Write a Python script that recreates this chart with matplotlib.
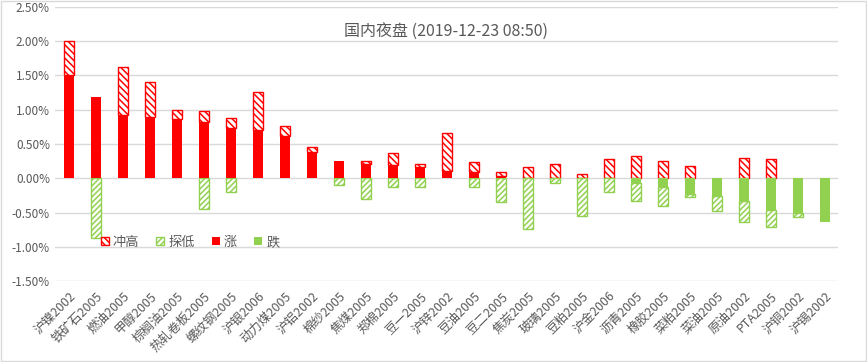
import matplotlib.pyplot as plt
import matplotlib.patches as mpatches
import numpy as np

plt.rcParams['font.family'] = ['Noto Sans CJK SC', 'DejaVu Sans']
plt.rcParams['hatch.linewidth'] = 1.1

# data (percent)
names = ['沪镍2002', '铁矿石2005', '燃油2005', '甲醇2005', '棕榈油2005', '热轧卷板2005',
         '螺纹钢2005', '沪银2006', '动力煤2005', '沪铝2002', '棉纱2005', '焦煤2005',
         '郑棉2005', '豆一2005', '沪锌2002', '豆油2005', '豆二2005', '焦炭2005',
         '玻璃2005', '豆粕2005', '沪金2006', '沥青2005', '橡胶2005', '菜粕2005',
         '菜油2005', '原油2002', 'PTA2005', '沪铜2002', '沪锡2002']
chg = [1.51, 1.18, 0.93, 0.90, 0.87, 0.82, 0.74, 0.71, 0.62, 0.39, 0.25, 0.21,
       0.19, 0.16, 0.11, 0.09, 0.04, 0.00, 0.00, 0.00, 0.00, -0.07, -0.12, -0.23,
       -0.25, -0.33, -0.46, -0.51, -0.63]
high = [2.00, 1.18, 1.62, 1.40, 1.00, 0.98, 0.88, 1.26, 0.76, 0.46, 0.25, 0.25,
        0.37, 0.21, 0.66, 0.24, 0.09, 0.17, 0.21, 0.07, 0.28, 0.33, 0.26, 0.18,
        0.00, 0.30, 0.28, 0.00, 0.00]
low = [0.00, -0.87, 0.00, 0.00, 0.00, -0.45, -0.20, 0.00, 0.00, 0.00, -0.10, -0.30,
       -0.12, -0.12, 0.00, -0.13, -0.35, -0.73, -0.07, -0.55, -0.19, -0.33, -0.40, -0.27,
       -0.47, -0.63, -0.70, -0.56, -0.63]

red = '#FF0000'
green = '#92D050'
gray = '#595959'
hatch_hi = '\\\\\\\\\\'
hatch_lo = '//////'

x = np.arange(len(names))
up = np.clip(chg, 0, None)
down = np.clip(chg, None, 0)
hi_part = np.array(high) - up
lo_part = np.array(low) - down

fig = plt.figure(figsize=(8.67, 3.62), dpi=100)
ax = fig.add_axes([0.064, 0.2224, 0.903, 0.759])

w = 0.37
# hide outline of empty segments
hi_lw = np.where(np.abs(hi_part) > 1e-9, 1.0, 0.0)
lo_lw = np.where(np.abs(lo_part) > 1e-9, 1.0, 0.0)
ax.bar(x, hi_part, w, bottom=up, color='white', edgecolor=red, hatch=hatch_hi, linewidth=hi_lw, zorder=3)
ax.bar(x, lo_part, w, bottom=down, color='white', edgecolor=green, hatch=hatch_lo, linewidth=lo_lw, zorder=3)
ax.bar(x, up, w, color=red, linewidth=0, zorder=3)
ax.bar(x, down, w, color=green, linewidth=0, zorder=3)

ax.set_xlim(-0.5, len(names) - 0.5)
ax.set_ylim(-1.5, 2.5)
ax.set_yticks(np.arange(-1.5, 2.51, 0.5))
ax.set_yticklabels([f'{v:.2f}%' for v in np.arange(-1.5, 2.51, 0.5)], color=gray, fontsize=8.5)
ax.set_xticks(x)
ax.set_xticklabels(names, rotation=45, ha='right', rotation_mode='anchor', color=gray, fontsize=9)
ax.tick_params(axis='y', length=0, pad=4)
ax.tick_params(axis='x', length=0, pad=6)
ax.grid(axis='y', color='#D9D9D9', linewidth=1.0, zorder=0)
ax.set_axisbelow(True)
for s in ax.spines.values():
    s.set_visible(False)

fig.text(0.514, 0.912, '国内夜盘 (2019-12-23 08:50)', ha='center', va='center', fontsize=11.5, color=gray)

handles = [
    mpatches.Patch(facecolor='white', edgecolor=red, hatch=hatch_hi, linewidth=1.0, label='冲高'),
    mpatches.Patch(facecolor='white', edgecolor=green, hatch=hatch_lo, linewidth=1.0, label='探低'),
    mpatches.Patch(facecolor=red, linewidth=0, label='涨'),
    mpatches.Patch(facecolor=green, linewidth=0, label='跌'),
]
ax.legend(handles=handles, loc='center', bbox_to_anchor=(0.172, 0.143), ncol=4, frameon=False,
          handlelength=0.6, handleheight=0.6, handletextpad=0.3, columnspacing=1.3,
          fontsize=9.5, labelcolor=gray)

fig.patches.append(mpatches.Rectangle((0.001, 0.002), 0.998, 0.996, transform=fig.transFigure,
                                      fill=False, edgecolor='#D9D9D9', linewidth=1.0))

fig.savefig('out.png', dpi=100)
